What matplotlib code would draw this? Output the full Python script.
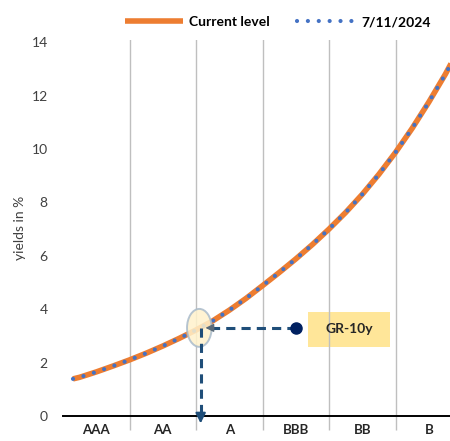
import matplotlib
matplotlib.use("Agg")
import matplotlib.pyplot as plt
from matplotlib.patches import Ellipse, Rectangle
from matplotlib.lines import Line2D

plt.rcParams['font.family'] = ['Lato', 'DejaVu Sans']

# Rating buckets along the category axis
ratings = ["AAA", "AA", "A", "BBB", "BB", "B"]

# Yield curve across the rating scale (position in rating units, yield in %)
curve_pos = [0.15, 0.25, 0.5, 0.75, 1.0, 1.25, 1.5, 1.75, 2.0, 2.25, 2.5,
             2.75, 3.0, 3.25, 3.5, 3.75, 4.0, 4.25, 4.5, 4.75, 5.0, 5.25,
             5.5, 5.75, 5.9]
current_level = [1.39, 1.45, 1.65, 1.87, 2.1, 2.35, 2.62, 2.91, 3.22, 3.56,
                 3.96, 4.4, 4.88, 5.37, 5.88, 6.42, 7.0, 7.62, 8.3, 9.05,
                 9.87, 10.77, 11.75, 12.8, 13.5]
earlier_level = [1.39, 1.45, 1.65, 1.87, 2.1, 2.35, 2.62, 2.91, 3.22, 3.56,
                 3.96, 4.4, 4.88, 5.37, 5.88, 6.42, 7.0, 7.62, 8.3, 9.05,
                 9.87, 10.77, 11.75, 12.8, 13.5]

# Greek 10y government bond placed on the curve
gr_label = "GR-10y"
gr_pos = 2.07
gr_yield = 3.3
gr_marker_pos = 3.5

yticks = [0, 2, 4, 6, 8, 10, 12, 14]

fig = plt.figure(figsize=(4.5, 4.41), dpi=100)
ax = fig.add_axes([63 / 450, 25 / 441, 399 / 450, 376 / 441])

ax.plot(curve_pos, current_level, color="#ED7D31", lw=4.0,
        solid_capstyle="butt", solid_joinstyle="round", zorder=3,
        label="Current level")
ax.plot(curve_pos, earlier_level, color="#4472C4", lw=3.0,
        linestyle=(0, (0.01, 2.6)), dash_capstyle="round", zorder=4,
        label="7/11/2024")

ax.set_xlim(0, len(ratings))
ax.set_ylim(0, 14.08)

# Category separators
ax.set_xticks(range(1, len(ratings)))
ax.set_xticklabels([])
ax.tick_params(axis="x", which="major", direction="out", length=10,
               color="#BFBFBF", width=1)
ax.grid(axis="x", which="major", color="#BFBFBF", lw=1, zorder=1)
ax.set_xticks([i + 0.5 for i in range(len(ratings))], minor=True)
ax.set_xticklabels(ratings, minor=True, fontsize=9.5, fontweight="bold",
                   color="#262626")
ax.tick_params(axis="x", which="minor", length=0, pad=6)

ax.set_yticks(yticks)
ax.set_yticklabels([str(v) for v in yticks], fontsize=10, color="#404040")
ax.tick_params(axis="y", length=0, pad=11)
ax.set_ylabel("yields in %", fontsize=10, color="#404040", labelpad=4)

for side in ["left", "right", "top"]:
    ax.spines[side].set_visible(False)
ax.spines["bottom"].set_color("black")
ax.spines["bottom"].set_linewidth(1.4)
ax.set_axisbelow(True)

# Highlight around the GR-10y point
ax.add_patch(Ellipse((gr_pos - 0.02, gr_yield), 0.37, 1.42,
                     facecolor="#FFF2CC", edgecolor="#A9BBCB", lw=1.4,
                     alpha=0.85, zorder=5))

# Dashed guides to the axis and to the label marker
ax.plot([gr_pos, gr_pos], [gr_yield, -0.1], color="#1F4E79", lw=2.2,
        linestyle=(0, (3, 2)), zorder=6, clip_on=False)
ax.annotate("", xy=(gr_pos, -0.38), xytext=(gr_pos, 0.1),
            arrowprops=dict(arrowstyle="-|>", color="#1F4E79",
                            mutation_scale=15, lw=1.5),
            annotation_clip=False, zorder=7)
ax.plot([gr_marker_pos, gr_pos + 0.1], [gr_yield, gr_yield], color="#1F4E79",
        lw=2.2, linestyle=(0, (3, 2)), zorder=6)
ax.annotate("", xy=(gr_pos + 0.03, gr_yield), xytext=(gr_pos + 0.2, gr_yield),
            arrowprops=dict(arrowstyle="-|>", color="#5B6B7A",
                            mutation_scale=12, lw=1),
            zorder=7)
ax.plot([gr_marker_pos], [gr_yield], "o", color="#002060", ms=8, zorder=7)

# Label box
ax.add_patch(Rectangle((3.69, 2.6), 1.23, 1.3, facecolor="#FFE699",
                       edgecolor="none", zorder=0.5))
ax.text(4.3, 3.25, gr_label, ha="center", va="center", fontsize=10,
        fontweight="bold", color="#262626", zorder=8)

leg_handles = [
    Line2D([], [], color="#ED7D31", lw=4.0, solid_capstyle="butt"),
    Line2D([], [], color="#4472C4", lw=3.0, linestyle=(0, (0.01, 2.6)),
           dash_capstyle="round"),
]
fig.legend(leg_handles, ["Current level", "7/11/2024"], loc="center",
           bbox_to_anchor=(0.617, 0.95), ncol=2, frameon=False,
           prop=dict(size=10, weight="bold"), handlelength=4.2,
           handletextpad=0.4, columnspacing=2.0)

fig.savefig("out.png", dpi=100)
